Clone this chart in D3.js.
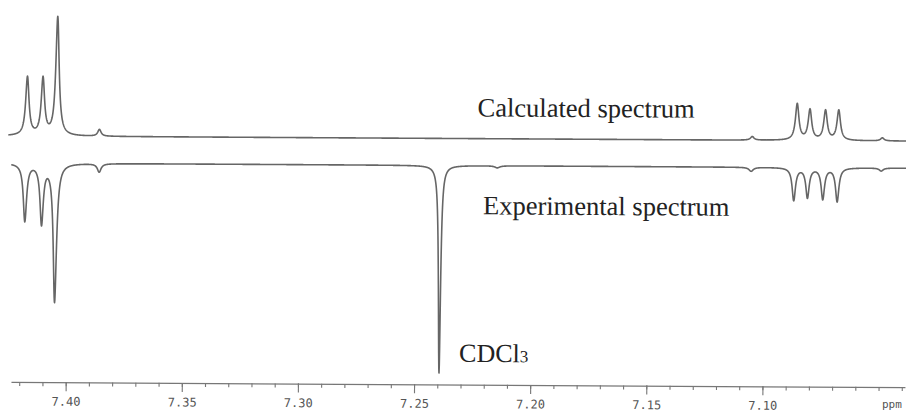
<!DOCTYPE html>
<html>
<head>
<meta charset="utf-8">
<script src="https://cdn.jsdelivr.net/npm/d3@7"></script>
<style>
  body { margin: 0; background: #fff; }
  svg { display: block; }
</style>
</head>
<body>
<svg id="chart" width="906" height="412"></svg>
<script>
// Peak lists: chemical shift (ppm), relative intensity, Lorentzian half-width (ppm)
const calcShifts      = [7.4172, 7.4105, 7.4043, 7.3861, 7.1050, 7.0857, 7.0802, 7.0735, 7.0678, 7.0490];
const calcIntensities = [48.8,   47.3,   98.8,   5.6,    3.0,    30.2,   25.2,   24.6,   25.0,   2.5];
const calcHalfWidths  = [0.00086, 0.00086, 0.00086, 0.00086, 0.00090, 0.00090, 0.00090, 0.00090, 0.00090, 0.00090];

const expShifts       = [7.4180, 7.4108, 7.4050, 7.3861, 7.2393, 7.2147, 7.1054, 7.0870, 7.0811, 7.0745, 7.0683, 7.0494];
const expIntensities  = [47.9,   49.2,   115.0,  7.0,    173.0,  1.7,    3.3,    27.2,   24.7,   25.9,   28.0,   2.5];
const expHalfWidths   = [0.00086, 0.00086, 0.00086, 0.00095, 0.00056, 0.0012, 0.0011, 0.00086, 0.00086, 0.00086, 0.00086, 0.0010];

const majorTicks = [7.40, 7.35, 7.30, 7.25, 7.20, 7.15, 7.10];
const minorTicks = d3.range(7.42, 7.035, -0.01).map(v => +v.toFixed(2));

const svg = d3.select("#chart");

// the plotted page sits at a slight angle
const page = svg.append("g").attr("transform", "rotate(0.33, 453, 206)");

const x = d3.scaleLinear().domain([7.40, 7.05]).range([66.7, 879.6]);
const yCalc = d3.scaleLinear().domain([0, 100]).range([138.5, 18.5]);
const yExp  = d3.scaleLinear().domain([0, 100]).range([165.5, 285.5]);

function spectrum(shifts, amps, widths, fromPx, toPx) {
  const lo = x.invert(toPx), hi = x.invert(fromPx);
  const grid = d3.range(hi, lo, -0.0001).concat(shifts.filter(s => s <= hi && s >= lo));
  grid.sort((a, b) => b - a);
  return grid.map(p => {
    let v = 0;
    for (let i = 0; i < shifts.length; i++) {
      const t = (p - shifts[i]) / widths[i];
      v += amps[i] / (1 + t * t);
    }
    return { ppm: p, v };
  });
}

const calcData = spectrum(calcShifts, calcIntensities, calcHalfWidths, 8, 910);
const expData  = spectrum(expShifts, expIntensities, expHalfWidths, 11, 910);

page.append("path")
  .datum(calcData)
  .attr("fill", "none")
  .attr("stroke", "#666")
  .attr("stroke-width", 1.6)
  .attr("stroke-linejoin", "round")
  .attr("d", d3.line().x(d => x(d.ppm)).y(d => yCalc(d.v)));

page.append("path")
  .datum(expData)
  .attr("fill", "none")
  .attr("stroke", "#666")
  .attr("stroke-width", 1.6)
  .attr("stroke-linejoin", "round")
  .attr("d", d3.line().x(d => x(d.ppm)).y(d => yExp(d.v)));

// ppm axis
const axisY = 384.5;
const axisScale = x.copy().domain([x.invert(12), x.invert(906)]).range([12, 906]);

const minorAxis = page.append("g")
  .attr("transform", `translate(0,${axisY})`)
  .call(d3.axisBottom(axisScale).tickValues(minorTicks).tickSize(4).tickSizeOuter(0).tickFormat(""));
minorAxis.select(".domain").attr("stroke", "#777").attr("stroke-width", 1.3);
minorAxis.selectAll(".tick line").attr("stroke", "#777").attr("stroke-width", 1.1);

const majorAxis = page.append("g")
  .attr("transform", `translate(0,${axisY})`)
  .call(d3.axisBottom(axisScale).tickValues(majorTicks).tickSize(9).tickSizeOuter(0)
    .tickPadding(6).tickFormat(d3.format(".2f")));
majorAxis.select(".domain").remove();
majorAxis.selectAll(".tick line").attr("stroke", "#777").attr("stroke-width", 1.1);
majorAxis.selectAll(".tick text")
  .attr("font-family", "DejaVu Sans Mono, monospace")
  .attr("font-size", 12)
  .attr("fill", "#555");

svg.append("text")
  .attr("x", 882).attr("y", 408)
  .attr("font-family", "DejaVu Sans Mono, monospace")
  .attr("font-size", 11)
  .attr("fill", "#555")
  .text("ppm");

// annotations
const serif = "Liberation Serif, Times New Roman, serif";
page.append("text")
  .attr("x", 477).attr("y", 116.3)
  .attr("font-family", serif).attr("font-size", 26.5).attr("fill", "#222")
  .text("Calculated spectrum");

page.append("text")
  .attr("x", 483).attr("y", 214.2)
  .attr("font-family", serif).attr("font-size", 26.5).attr("fill", "#222")
  .text("Experimental spectrum");

const cd = page.append("text")
  .attr("x", 460).attr("y", 361.8)
  .attr("font-family", serif).attr("font-size", 26).attr("fill", "#222");
cd.append("tspan").text("CDCl");
cd.append("tspan").attr("font-size", 17).text("3");
</script>
</body>
</html>
